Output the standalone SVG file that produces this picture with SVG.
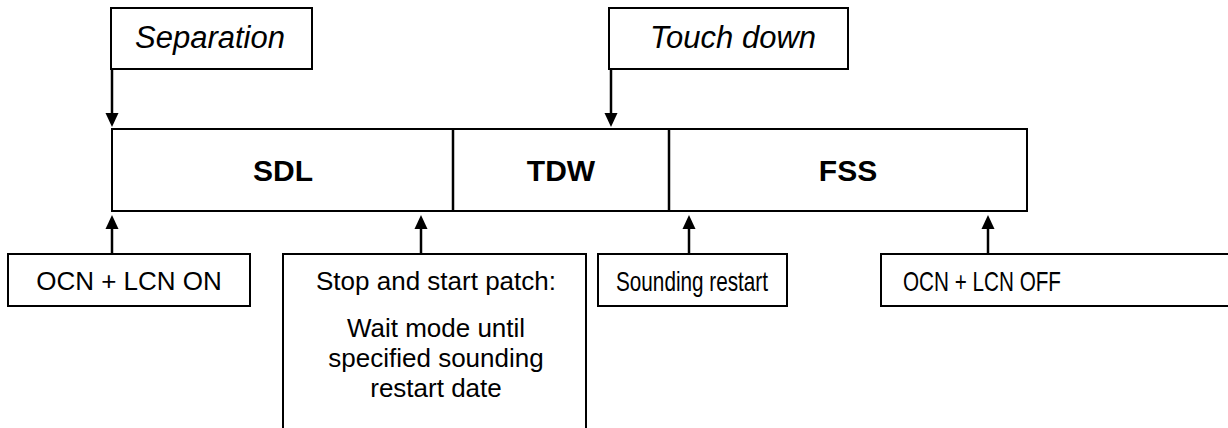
<svg xmlns="http://www.w3.org/2000/svg" width="1228" height="428" viewBox="0 0 1228 428">
<style>
  .box { fill: #fff; stroke: #000; stroke-width: 2; }
  .conn { stroke: #000; stroke-width: 2.5; fill: none; marker-end: url(#ah); }
  .lbl { font-family: "Liberation Sans", Arial, sans-serif; font-size: 26px; fill: #000; text-anchor: middle; }
  .lbl-narrow { font-family: "Liberation Sans", Arial, sans-serif; font-size: 28px; fill: #000; text-anchor: start; }
  .evt { font-family: "Liberation Sans", Arial, sans-serif; font-size: 31px; font-style: italic; fill: #000; text-anchor: middle; }
  .phase { font-family: "Liberation Sans", Arial, sans-serif; font-size: 30px; font-weight: bold; fill: #000; text-anchor: middle; }
</style>
<defs>
  <marker id="ah" markerUnits="userSpaceOnUse" markerWidth="14" markerHeight="14" refX="1" refY="6.5" orient="auto" viewBox="0 0 14 13">
    <path d="M0,0 L14,6.5 L0,13 z" fill="#000"/>
  </marker>
</defs>
<rect width="1228" height="428" fill="#fff"/>

<g id="separation">
  <rect class="box" x="111" y="8" width="201" height="61"/>
  <text class="evt" x="210" y="48">Separation</text>
</g>
<g id="touchdown">
  <rect class="box" x="609" y="8" width="239" height="61"/>
  <text class="evt" x="733" y="48">Touch down</text>
</g>

<g id="timeline">
  <rect class="box" x="112" y="129" width="915" height="82" stroke-width="2.5"/>
  <line x1="453" y1="129" x2="453" y2="211" stroke="#000" stroke-width="2.5"/>
  <line x1="669" y1="129" x2="669" y2="211" stroke="#000" stroke-width="2.5"/>
</g>
<g id="sdl"><text class="phase" x="283" y="181">SDL</text></g>
<g id="tdw"><text class="phase" x="561" y="181">TDW</text></g>
<g id="fss"><text class="phase" x="848" y="181">FSS</text></g>

<g id="ocn-on">
  <rect class="box" x="8" y="254" width="242" height="52"/>
  <text class="lbl" x="129" y="290">OCN + LCN ON</text>
</g>
<g id="stop-start">
  <rect class="box" x="283" y="254" width="303" height="190"/>
  <text class="lbl" x="436" y="290">Stop and start patch:</text>
  <text class="lbl" x="436" y="337">Wait mode until</text>
  <text class="lbl" x="436" y="367">specified sounding</text>
  <text class="lbl" x="436" y="397">restart date</text>
</g>
<g id="sounding-restart">
  <rect class="box" x="598" y="254" width="189" height="52"/>
  <text class="lbl-narrow" x="616" y="291" textLength="152" lengthAdjust="spacingAndGlyphs">Sounding restart</text>
</g>
<g id="ocn-off">
  <rect class="box" x="881" y="254" width="360" height="52"/>
  <text class="lbl-narrow" x="903" y="291" textLength="158" lengthAdjust="spacingAndGlyphs">OCN + LCN OFF</text>
</g>

<g id="connectors">
  <line class="conn" x1="112" y1="69" x2="112" y2="114"/>
  <line class="conn" x1="611" y1="69" x2="611" y2="114"/>
  <line class="conn" x1="112" y1="254" x2="112" y2="228"/>
  <line class="conn" x1="421" y1="254" x2="421" y2="228"/>
  <line class="conn" x1="689" y1="254" x2="689" y2="228"/>
  <line class="conn" x1="988" y1="254" x2="988" y2="228"/>
</g>
</svg>
